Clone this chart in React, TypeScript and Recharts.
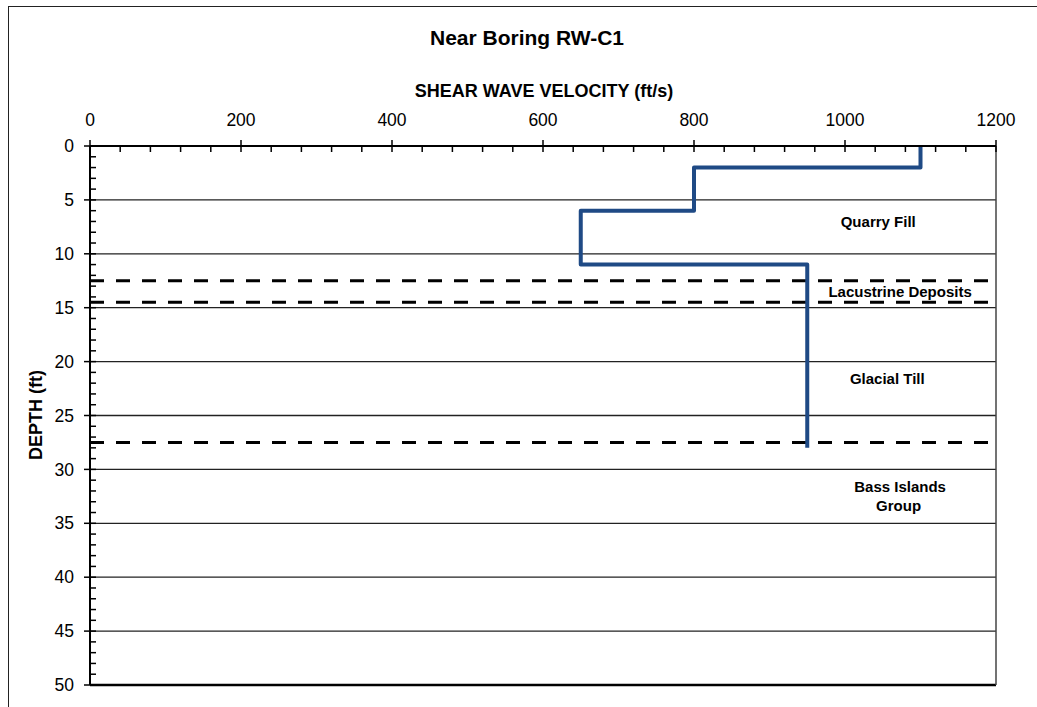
import React from 'react';
import { LineChart, Line, XAxis, YAxis, ReferenceLine, ReferenceDot } from 'recharts';

// velocity profile near boring RW-C1 (ft/s vs depth ft)
const velocity = [1100, 1100, 800, 800, 650, 650, 950, 950];
const depth = [0, 2, 2, 6, 6, 11, 11, 28];

const xMajorTicks = [0, 200, 400, 600, 800, 1000, 1200];
const yMajorTicks = [0, 5, 10, 15, 20, 25, 30, 35, 40, 45, 50];
const gridDepths = [5, 10, 15, 20, 25, 30, 35, 40, 45];
const layerBoundaries = [12.5, 14.5, 27.5];

const layerNames = ['Quarry Fill', 'Lacustrine Deposits', 'Glacial Till', 'Bass Islands', 'Group'];
const layerNameX = [1044, 1073, 1056, 1073, 1071];
const layerNameY = [7.05, 13.5, 21.6, 31.6, 33.4];

const X_MINOR = 40;
const Y_MINOR = 1;

const xTicks: number[] = [];
for (let v = 0; v <= 1200; v += X_MINOR) xTicks.push(v);
const yTicks: number[] = [];
for (let d = 0; d <= 50; d += Y_MINOR) yTicks.push(d);

const data = velocity.map((v, i) => ({ v, d: depth[i] }));
const labels = layerNames.map((name, i) => ({ name, x: layerNameX[i], y: layerNameY[i] }));

const FONT = '"Liberation Sans", Arial, sans-serif';

const XTick = (props: any) => {
  const { x, y, payload } = props;
  const major = xMajorTicks.includes(payload.value);
  return (
    <g>
      <line x1={x} x2={x} y1={major ? y - 6 : y} y2={y + 6} stroke="#000" strokeWidth={1.5} />
      {major && (
        <text x={x} y={y - 20} textAnchor="middle" fontSize={17.5} fontFamily={FONT} fill="#000">
          {payload.value}
        </text>
      )}
    </g>
  );
};

const YTick = (props: any) => {
  const { x, y, payload } = props;
  const major = yMajorTicks.includes(payload.value);
  return (
    <g>
      <line x1={major ? x - 6 : x} x2={x + 6} y1={y} y2={y} stroke="#000" strokeWidth={1.5} />
      {major && (
        <text x={x - 16} y={y} dy="0.35em" textAnchor="end" fontSize={17.5} fontFamily={FONT} fill="#000">
          {payload.value}
        </text>
      )}
    </g>
  );
};

const LayerLabel = (props: any) => {
  const { viewBox, value } = props;
  const cx = viewBox.x + (viewBox.width || 0) / 2;
  const cy = viewBox.y + (viewBox.height || 0) / 2;
  return (
    <text x={cx} y={cy} dy="0.35em" textAnchor="middle" fontSize={15} fontWeight="bold" fontFamily={FONT} fill="#000">
      {value}
    </text>
  );
};

export default function App() {
  return (
    <div style={{ position: 'absolute', left: 0, top: 0, width: 1037, height: 707, overflow: 'hidden', background: '#fff', fontFamily: FONT }}>
      <div style={{ position: 'absolute', left: 8, top: 6, width: 1200, height: 900, borderLeft: '1.5px solid #222', borderTop: '1.5px solid #222' }} />
      <div style={{ position: 'absolute', left: 0, width: 1054, top: 27, textAlign: 'center', fontSize: 21, lineHeight: 1, fontWeight: 'bold' }}>
        Near Boring RW-C1
      </div>
      <div style={{ position: 'absolute', left: 0, width: 1088, top: 82, textAlign: 'center', fontSize: 18, lineHeight: 1, fontWeight: 'bold' }}>
        SHEAR WAVE VELOCITY (ft/s)
      </div>
      <div style={{ position: 'absolute', left: 36, top: 415, transform: 'translate(-50%, -50%) rotate(-90deg)', whiteSpace: 'nowrap', fontSize: 18, lineHeight: 1, fontWeight: 'bold' }}>
        DEPTH (ft)
      </div>
      <div style={{ position: 'absolute', left: 0, top: 0 }}>
        <LineChart width={1037} height={707} data={data} margin={{ top: 86, right: 41, bottom: 22, left: 30 }}>
          <XAxis
            type="number"
            dataKey="v"
            orientation="top"
            domain={[0, 1200]}
            ticks={xTicks}
            interval={0}
            height={60}
            tickSize={0}
            tickMargin={0}
            tickLine={false}
            tick={XTick}
            axisLine={{ stroke: '#000', strokeWidth: 2 }}
            allowDataOverflow
          />
          <YAxis
            type="number"
            domain={[0, 50]}
            reversed
            ticks={yTicks}
            interval={0}
            width={60}
            tickSize={0}
            tickMargin={0}
            tickLine={false}
            tick={YTick}
            axisLine={{ stroke: '#000', strokeWidth: 2 }}
            allowDataOverflow
          />
          {gridDepths.map((d) => (
            <ReferenceLine key={`g${d}`} y={d} stroke="#222" strokeWidth={1.3} />
          ))}
          <ReferenceLine y={50} stroke="#000" strokeWidth={2.5} />
          <ReferenceLine x={1200} stroke="#444" strokeWidth={1.5} />
          {layerBoundaries.map((d) => (
            <ReferenceLine key={`b${d}`} y={d} stroke="#000" strokeWidth={3} strokeDasharray="14 12" />
          ))}
          {labels.map((l) => (
            <ReferenceDot key={l.name} x={l.x} y={l.y} r={0} fill="none" stroke="none" label={<LayerLabel value={l.name} />} />
          ))}
          <Line
            type="linear"
            dataKey="d"
            stroke="#1f4a85"
            strokeWidth={4}
            strokeLinejoin="round"
            dot={false}
            activeDot={false}
            isAnimationActive={false}
          />
        </LineChart>
      </div>
    </div>
  );
}
